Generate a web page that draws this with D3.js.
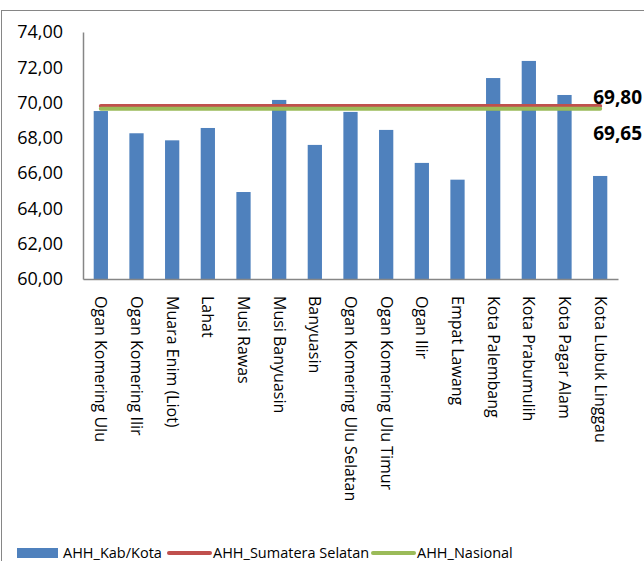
<!DOCTYPE html>
<html>
<head>
<meta charset="utf-8">
<script src="https://cdn.jsdelivr.net/npm/d3@7"></script>
<style>
  body { margin: 0; background: #fff; }
  svg { display: block; font-family: "Open Sans", sans-serif; }
</style>
</head>
<body>
<svg id="chart" width="644" height="561"></svg>
<script>
// categories (kabupaten / kota)
const regions = [
    "Ogan Komering Ulu", "Ogan Komering Ilir", "Muara Enim (Liot)", "Lahat",
    "Musi Rawas", "Musi Banyuasin", "Banyuasin", "Ogan Komering Ulu Selatan",
    "Ogan Komering Ulu Timur", "Ogan Ilir", "Empat Lawang", "Kota Palembang",
    "Kota Prabumulih", "Kota Pagar Alam", "Kota Lubuk Linggau"
];
// AHH per kab/kota
const ahhKabKota = [69.52, 68.26, 67.86, 68.56, 64.93, 70.15, 67.60, 69.47,
    68.45, 66.58, 65.63, 71.39, 72.36, 70.43, 65.84];
const ahhSumsel = 69.80;
const ahhNasional = 69.65;
const yTicks = [60, 62, 64, 66, 68, 70, 72, 74];
const seriesNames = ["AHH_Kab/Kota", "AHH_Sumatera Selatan", "AHH_Nasional"];
const seriesColours = ["#4f81bd", "#c0504d", "#9bbb59"];

const fmt = v => v.toFixed(2).replace(".", ",");

const svg = d3.select("#chart");

// outer chart border (runs off the right/bottom of the picture)
svg.append("rect")
    .attr("x", 1.5).attr("y", 10.5)
    .attr("width", 700).attr("height", 600)
    .attr("fill", "none")
    .attr("stroke", "#868686");

const plotLeft = 83, plotRight = 618, plotTop = 32, plotBottom = 279;

const x = d3.scaleBand()
    .domain(regions)
    .range([plotLeft, plotRight])
    .paddingInner(0.6)
    .paddingOuter(0.3);

const y = d3.scaleLinear()
    .domain([60, 74])
    .range([plotBottom, plotTop]);

const cx = d => x(d) + x.bandwidth() / 2;

// bars
svg.append("g")
    .selectAll("rect")
    .data(regions)
    .join("rect")
    .attr("x", d => x(d))
    .attr("y", (d, i) => y(ahhKabKota[i]))
    .attr("width", x.bandwidth())
    .attr("height", (d, i) => y(60) - y(ahhKabKota[i]))
    .attr("fill", seriesColours[0]);

// reference lines
const line = d3.line().x(d => cx(d.r)).y(d => y(d.v));
[[ahhSumsel, seriesColours[1]], [ahhNasional, seriesColours[2]]].forEach(([v, c]) => {
    svg.append("path")
        .datum(regions.map(r => ({ r, v })))
        .attr("d", line)
        .attr("fill", "none")
        .attr("stroke", c)
        .attr("stroke-width", 4)
        .attr("stroke-linecap", "round");
});

// value labels at the end of the lines
const last = regions[regions.length - 1];
svg.append("text")
    .attr("x", cx(last) - 7).attr("y", y(ahhSumsel) - 2)
    .attr("font-size", 19).attr("font-weight", "bold")
    .text(fmt(ahhSumsel));
svg.append("text")
    .attr("x", cx(last) - 7).attr("y", y(ahhNasional) + 31)
    .attr("font-size", 19).attr("font-weight", "bold")
    .text(fmt(ahhNasional));

// y axis
svg.append("g")
    .attr("transform", `translate(${plotLeft},0)`)
    .call(d3.axisLeft(y).tickValues(yTicks).tickFormat(fmt).tickSize(0).tickPadding(20))
    .call(g => g.select(".domain").attr("stroke", "#868686").attr("stroke-width", 1.5))
    .call(g => g.selectAll("text").attr("font-size", 18).attr("fill", "#000")
        .attr("font-family", "Open Sans, sans-serif"));

// x axis
svg.append("g")
    .attr("transform", `translate(0,${plotBottom})`)
    .call(d3.axisBottom(x).tickSize(0).tickSizeOuter(0))
    .call(g => g.select(".domain").attr("stroke", "#868686").attr("stroke-width", 1.5))
    .call(g => g.selectAll("text")
        .attr("font-size", 16)
        .attr("fill", "#000")
        .attr("font-family", "Open Sans, sans-serif")
        .attr("text-anchor", "start")
        .attr("transform", "rotate(90)")
        .attr("x", 17)
        .attr("y", 0)
        .attr("dy", "0.35em"));

// legend
const legend = svg.append("g").attr("font-size", 14.5);
const legendX = [17, 167, 371];
const legendY = 553;
legend.append("rect")
    .attr("x", legendX[0]).attr("y", legendY - 5)
    .attr("width", 41).attr("height", 10)
    .attr("fill", seriesColours[0]);
[1, 2].forEach(i => {
    legend.append("line")
        .attr("x1", legendX[i] + 2).attr("x2", legendX[i] + 43)
        .attr("y1", legendY).attr("y2", legendY)
        .attr("stroke", seriesColours[i])
        .attr("stroke-width", 4)
        .attr("stroke-linecap", "round");
});
seriesNames.forEach((name, i) => {
    legend.append("text")
        .attr("x", legendX[i] + 46)
        .attr("y", legendY + 5)
        .attr("fill", "#000")
        .text(name);
});
</script>
</body>
</html>
